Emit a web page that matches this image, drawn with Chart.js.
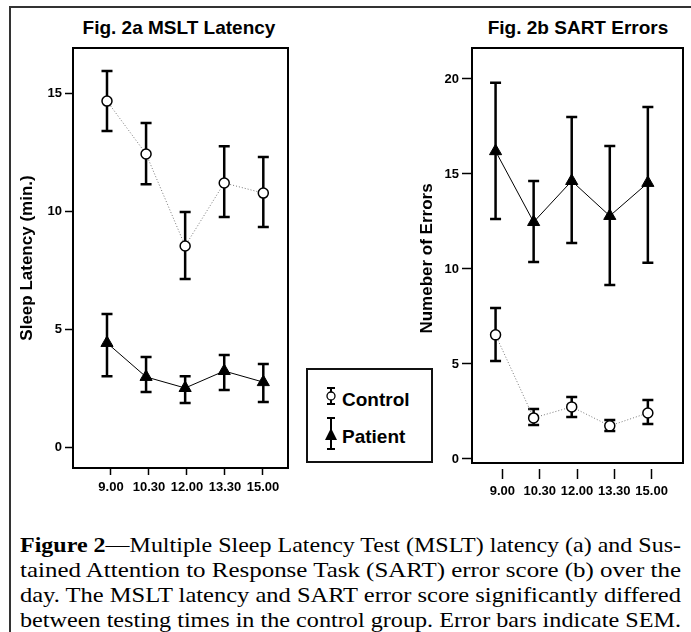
<!DOCTYPE html>
<html>
<head>
<meta charset="utf-8">
<script src="https://cdn.jsdelivr.net/npm/chart.js@4.4.1/dist/chart.umd.min.js"></script>
<style>
body { margin: 0; width: 691px; height: 632px; background: #fff; position: relative; overflow: hidden; font-family: 'Liberation Sans', Arial, sans-serif; color: #000; }
#frame { position: absolute; left: 9px; top: 6px; width: 700px; height: 700px; border-top: 2px solid #333; border-left: 2px solid #333; }
.ttl { position: absolute; top: 16px; width: 200px; text-align: center; font-weight: bold; font-size: 19px; line-height: 23px; }
.wrap { position: absolute; top: 0; }
#legend { position: absolute; left: 306px; top: 368px; width: 127px; height: 95px; box-sizing: border-box; border: 2px solid #111; background: #fff; z-index: 2; }
.lg-txt { position: absolute; left: 342px; font-weight: bold; font-size: 19px; line-height: 22px; z-index: 3; }
#icons { position: absolute; left: 0; top: 0; z-index: 3; }
.cap { position: absolute; left: 20px; font-family: 'Liberation Serif', 'Times New Roman', serif; font-size: 21px; line-height: 25px; white-space: nowrap; }
.cap span { display: inline-block; transform-origin: 0 50%; }
</style>
</head>
<body>
<div id="frame"></div>
<div class="ttl" style="left:79px">Fig. 2a MSLT Latency</div>
<div class="ttl" style="left:478px">Fig. 2b SART Errors</div>
<div class="wrap" style="left:0"><canvas id="chartA" width="345" height="500"></canvas></div>
<div class="wrap" style="left:345px"><canvas id="chartB" width="346" height="500"></canvas></div>

<div id="legend"></div>
<svg id="icons" width="691" height="632">
  <g stroke="#000" stroke-width="2" fill="none">
    <line x1="331" y1="388" x2="331" y2="404"/>
    <line x1="327" y1="388" x2="335" y2="388"/>
    <line x1="327" y1="404" x2="335" y2="404"/>
    <circle cx="331" cy="396" r="4" fill="#fff" stroke-width="1.3"/>
    <line x1="331" y1="418" x2="331" y2="449"/>
    <line x1="327" y1="418" x2="335" y2="418"/>
    <line x1="327" y1="449" x2="335" y2="449"/>
  </g>
  <polygon points="331,428 337,440 325,440" fill="#000"/>
</svg>
<div class="lg-txt" style="top:389px">Control</div>
<div class="lg-txt" style="top:426px">Patient</div>

<div class="cap" style="top:533px"><span><b>Figure 2</b>—Multiple Sleep Latency Test (MSLT) latency (a) and Sus-</span></div>
<div class="cap" style="top:558px"><span>tained Attention to Response Task (SART) error score (b) over the</span></div>
<div class="cap" style="top:583px"><span>day. The MSLT latency and SART error score significantly differed</span></div>
<div class="cap" style="top:608px"><span>between testing times in the control group. Error bars indicate SEM.</span></div>

<script>
// testing times (x categories)
const times = ['9.00', '10.30', '12.00', '13.30', '15.00'];

// Fig. 2a MSLT latency (min.)
const msltControl = [14.66, 12.42, 8.52, 11.19, 10.76];
const msltControlHi = [15.93, 13.73, 9.96, 12.75, 12.29];
const msltControlLo = [13.39, 11.14, 7.12, 9.75, 9.32];
const msltPatient = [4.41, 2.97, 2.50, 3.22, 2.75];
const msltPatientHi = [5.64, 3.81, 3.00, 3.90, 3.52];
const msltPatientLo = [3.00, 2.33, 1.86, 2.42, 1.91];
const msltTicks = [0, 5, 10, 15];

// Fig. 2b SART errors
const sartControl = [6.53, 2.16, 2.74, 1.74, 2.42];
const sartControlHi = [7.95, 2.63, 3.26, 2.05, 3.10];
const sartControlLo = [5.16, 1.79, 2.21, 1.47, 1.84];
const sartPatient = [16.20, 12.47, 14.63, 12.79, 14.53];
const sartPatientHi = [19.80, 14.63, 18.00, 16.47, 18.53];
const sartPatientLo = [12.63, 10.37, 11.37, 9.16, 10.32];
const sartTicks = [0, 5, 10, 15, 20];

const toPoints = arr => arr.map((v, i) => ({ x: i, y: v }));

// error bars drawn behind the markers
const errorBars = {
    id: 'errorBars',
    beforeDatasetsDraw(chart) {
        const ctx = chart.ctx;
        const y = chart.scales.y;
        ctx.save();
        ctx.strokeStyle = '#000';
        ctx.lineWidth = 2.5;
        chart.data.datasets.forEach((ds, di) => {
            const meta = chart.getDatasetMeta(di);
            meta.data.forEach((pt, i) => {
                const top = y.getPixelForValue(ds.errHi[i]);
                const bot = y.getPixelForValue(ds.errLo[i]);
                ctx.beginPath();
                ctx.moveTo(pt.x, top); ctx.lineTo(pt.x, bot);
                ctx.moveTo(pt.x - 5.5, top); ctx.lineTo(pt.x + 5.5, top);
                ctx.moveTo(pt.x - 5.5, bot); ctx.lineTo(pt.x + 5.5, bot);
                ctx.stroke();
            });
        });
        ctx.restore();
    }
};

// frame around the plot area
const plotBox = {
    id: 'plotBox',
    afterDraw(chart, args, opts) {
        const a = chart.chartArea;
        const ctx = chart.ctx;
        ctx.save();
        ctx.strokeStyle = '#000';
        ctx.lineWidth = 2;
        ctx.strokeRect(a.left, a.top, a.right - a.left, a.bottom - (opts.gap || 0) - a.top);
        ctx.restore();
    }
};

function makeChart(id, cfg) {
    const tickFont = { family: "'Liberation Sans', Arial, sans-serif", size: 13, weight: 'bold' };
    const data = {
        datasets: [
            {
                label: 'Control',
                data: toPoints(cfg.control),
                errHi: cfg.controlHi,
                errLo: cfg.controlLo,
                borderColor: '#777',
                borderWidth: 1,
                borderDash: [1, 2],
                pointStyle: 'circle',
                pointRadius: 5,
                pointBackgroundColor: '#fff',
                pointBorderColor: '#000',
                pointBorderWidth: 1.5,
                tension: 0
            },
            {
                label: 'Patient',
                data: toPoints(cfg.patient),
                errHi: cfg.patientHi,
                errLo: cfg.patientLo,
                borderColor: '#000',
                borderWidth: 1,
                pointStyle: 'triangle',
                pointRadius: 7,
                pointBackgroundColor: '#000',
                pointBorderColor: '#000',
                pointBorderWidth: 1,
                tension: 0
            }
        ]
    };

    return new Chart(document.getElementById(id), {
        type: 'line',
        data: data,
        plugins: [errorBars, plotBox],
        options: {
            responsive: false,
            animation: false,
            events: [],
            layout: { padding: cfg.padding },
            plugins: {
                legend: { display: false },
                tooltip: { enabled: false },
                plotBox: { gap: cfg.gap }
            },
            scales: {
                x: { type: 'linear', display: false, min: cfg.xMin, max: cfg.xMax },
                xt: {
                    type: 'linear',
                    position: 'bottom',
                    min: cfg.tMin,
                    max: cfg.tMax,
                    afterBuildTicks: s => { s.ticks = times.map((t, i) => ({ value: i })); },
                    afterFit: s => { s.height = cfg.xHeight; },
                    border: { display: false },
                    grid: { drawOnChartArea: false, tickLength: cfg.xTickLen, tickColor: '#000', tickWidth: 1.5 },
                    ticks: { callback: v => times[v], font: tickFont, color: '#000', padding: 5, maxRotation: 0, autoSkip: false }
                },
                y: {
                    min: cfg.yMin,
                    max: cfg.yMax,
                    afterBuildTicks: s => { s.ticks = cfg.yTicks.map(v => ({ value: v })); },
                    afterFit: s => { s.width = cfg.yWidth; },
                    border: { display: false },
                    grid: { drawOnChartArea: false, tickLength: cfg.yTickLen, tickColor: '#000', tickWidth: 1.5 },
                    ticks: { font: tickFont, color: '#000', padding: 3 },
                    title: {
                        display: true,
                        text: cfg.yTitle,
                        color: '#000',
                        font: { family: "'Liberation Sans', Arial, sans-serif", size: 17, weight: 'bold' },
                        padding: { top: cfg.titlePad, bottom: 0 }
                    }
                }
            }
        }
    });
}

makeChart('chartA', {
    control: msltControl, controlHi: msltControlHi, controlLo: msltControlLo,
    patient: msltPatient, patientHi: msltPatientHi, patientLo: msltPatientLo,
    yTicks: msltTicks, yMin: -0.89, yMax: 16.91,
    xMin: -0.87, xMax: 4.632, tMin: -1.0, tMax: 4.658,
    padding: { left: 10, top: 48, right: 57, bottom: 0 },
    yWidth: 63, xHeight: 32, yTickLen: 8, xTickLen: 7, titlePad: 6.8, gap: 0,
    yTitle: 'Sleep Latency (min.)'
});

makeChart('chartB', {
    control: sartControl, controlHi: sartControlHi, controlLo: sartControlLo,
    patient: sartPatient, patientHi: sartPatientHi, patientLo: sartPatientLo,
    yTicks: sartTicks, yMin: -0.53, yMax: 21.63,
    xMin: -0.619, xMax: 4.923, tMin: -0.816, tMax: 4.842,
    padding: { left: 60, top: 48, right: 4, bottom: 0 },
    yWidth: 67, xHeight: 31, yTickLen: 10, xTickLen: 10, titlePad: 11.8, gap: 6,
    yTitle: 'Numeber of Errors'
});

// stretch caption lines to the justified column width
document.querySelectorAll('.cap span').forEach(sp => {
    const w = sp.getBoundingClientRect().width;
    sp.style.transform = 'scaleX(' + (661 / w) + ')';
});
</script>
</body>
</html>
